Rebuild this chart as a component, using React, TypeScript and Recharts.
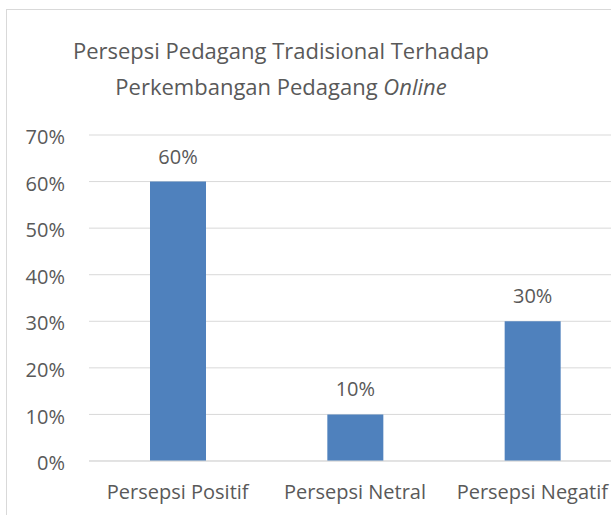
import { BarChart, Bar, XAxis, YAxis, CartesianGrid, LabelList } from 'recharts'

// Data
const categories = ['Persepsi Positif', 'Persepsi Netral', 'Persepsi Negatif']
const shares = [0.6, 0.1, 0.3]
const yTicks = [0, 0.1, 0.2, 0.3, 0.4, 0.5, 0.6, 0.7]

const FONT = '"Open Sans", sans-serif'
const TEXT = '#595959'
const TICK_SIZE = 20

const pct = (v: number) => `${Math.round(v * 100)}%`

export default function App() {
  const data = categories.map((name, i) => ({ name, value: shares[i] }))

  return (
    <div
      style={{
        position: 'fixed',
        left: 0,
        top: 0,
        width: 611,
        height: 515,
        overflow: 'hidden',
        background: '#fff',
        fontFamily: FONT,
      }}
    >
      {/* chart frame, cropped on the right and bottom like the reference */}
      <div
        style={{
          position: 'absolute',
          left: 6,
          top: 9,
          width: 700,
          height: 600,
          border: '1px solid #d9d9d9',
          boxSizing: 'border-box',
        }}
      />
      <div
        style={{
          position: 'absolute',
          left: 31,
          top: 32,
          width: 500,
          textAlign: 'center',
          fontSize: 22,
          lineHeight: '36px',
          color: TEXT,
          whiteSpace: 'nowrap',
        }}
      >
        Persepsi Pedagang Tradisional Terhadap
        <br />
        Perkembangan Pedagang <i>Online</i>
      </div>
      <div style={{ position: 'absolute', left: 0, top: 0 }}>
        <BarChart
          width={640}
          height={515}
          data={data}
          margin={{ top: 135, right: 19, bottom: 24, left: 0 }}
        >
          <CartesianGrid vertical={false} stroke="#d9d9d9" />
          <XAxis
            dataKey="name"
            height={30}
            axisLine={{ stroke: '#d9d9d9' }}
            tickLine={false}
            tickSize={0}
            tickMargin={24}
            tick={{ fill: TEXT, fontSize: TICK_SIZE, fontFamily: FONT }}
            interval={0}
          />
          <YAxis
            width={89}
            domain={[0, 0.7]}
            ticks={yTicks}
            tickFormatter={pct}
            axisLine={false}
            tickLine={false}
            tickSize={0}
            tickMargin={24}
            tick={{ fill: TEXT, fontSize: TICK_SIZE, fontFamily: FONT, dy: 2 }}
          />
          <Bar dataKey="value" fill="#4f81bd" barSize={56} isAnimationActive={false}>
            <LabelList
              dataKey="value"
              position="top"
              offset={18}
              formatter={(v: any) => pct(Number(v))}
              style={{ fill: TEXT, fontSize: TICK_SIZE, fontFamily: FONT }}
            />
          </Bar>
        </BarChart>
      </div>
    </div>
  )
}
